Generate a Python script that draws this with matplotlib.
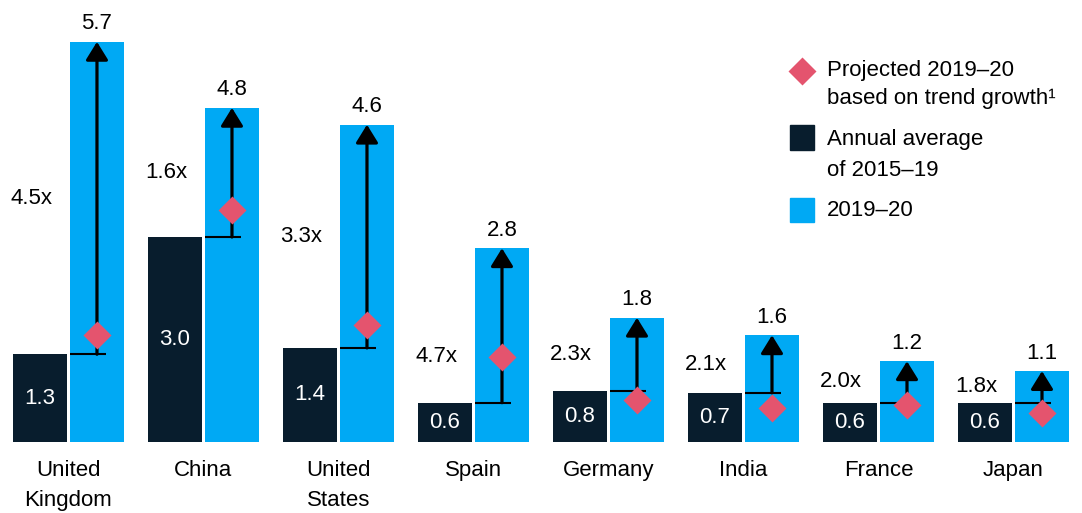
import matplotlib.pyplot as plt
from matplotlib.patches import FancyArrowPatch, Rectangle
from matplotlib.lines import Line2D

plt.rcParams['font.family'] = ['Liberation Sans', 'DejaVu Sans']

countries = ['United\nKingdom', 'China', 'United\nStates', 'Spain', 'Germany', 'India', 'France', 'Japan']
# bar heights as drawn in the picture
avg_2015_19 = [1.25, 2.92, 1.34, 0.56, 0.73, 0.70, 0.56, 0.56]
actual_2019_20 = [5.70, 4.76, 4.52, 2.76, 1.77, 1.52, 1.15, 1.01]
projected = [1.52, 3.30, 1.67, 1.21, 0.60, 0.48, 0.53, 0.41]
# printed labels
avg_labels = ['1.3', '3.0', '1.4', '0.6', '0.8', '0.7', '0.6', '0.6']
actual_labels = ['5.7', '4.8', '4.6', '2.8', '1.8', '1.6', '1.2', '1.1']
multipliers = ['4.5x', '1.6x', '3.3x', '4.7x', '2.3x', '2.1x', '2.0x', '1.8x']

dark = '#081d2d'
blue = '#00a9f4'
pink = '#e4546e'
fs = 16

fig = plt.figure(figsize=(10.82, 5.13), dpi=100)
ax = fig.add_axes([13 / 1082, 71 / 513, 1056 / 1082, 442 / 513])
ax.set_xlim(-0.411, 7.411)
ax.set_ylim(0, 442 / 70.2)
ax.axis('off')

w = 0.4
off = 0.211
for i, c in enumerate(countries):
    d, b, p = avg_2015_19[i], actual_2019_20[i], projected[i]
    ax.bar(i - off, d, width=w, color=dark)
    ax.bar(i + off, b, width=w, color=blue)
    # value labels
    ax.text(i - off, d / 2, avg_labels[i], color='white', ha='center', va='center', fontsize=fs)
    ax.annotate(actual_labels[i], (i + off, b), xytext=(0, 9), textcoords='offset points',
                ha='center', va='baseline', fontsize=fs)
    # tick at the average level and arrow up to the actual value
    ax.plot([i + off - w / 2, i + off + 0.07], [d, d], color='black', lw=1.5, solid_capstyle='butt')
    arr = FancyArrowPatch((i + off, d), (i + off, b), arrowstyle='-|>,head_length=11,head_width=6.8',
                          mutation_scale=1, color='black', lw=2.3, shrinkA=0, shrinkB=0, zorder=3)
    ax.add_patch(arr)
    ax.plot([i + off], [p], marker='D', ms=14.5, color=pink, mec='none', zorder=4)
    # growth multiplier
    ymid = (d + b) / 2
    if c == 'Spain':
        ymid = d + 0.66
    ax.text(i - off - w / 2 - 0.02, ymid, multipliers[i], ha='left', va='center', fontsize=fs)
    ax.annotate(c, (i, 0), xytext=(0, -13), textcoords='offset points', ha='center', va='top',
                fontsize=fs, linespacing=1.55, annotation_clip=False)

# legend
def fx(x):
    return x / 1082

def fy(y):
    return 1 - y / 513

fig.add_artist(Line2D([fx(802)], [fy(71)], marker='D', ms=14.5, color=pink, mec='none',
                      transform=fig.transFigure))
fig.add_artist(Rectangle((fx(790), fy(150)), 24 / 1082, 25 / 513, color=dark, transform=fig.transFigure))
fig.add_artist(Rectangle((fx(790), fy(222)), 24 / 1082, 24 / 513, color=blue, transform=fig.transFigure))
for y, t in [(71, 'Projected 2019\u201320'), (99, 'based on trend growth\u00b9'),
             (140, 'Annual average'), (170, 'of 2015\u201319'), (211, '2019\u201320')]:
    fig.text(fx(827), fy(y), t, ha='left', va='center', fontsize=fs)

fig.savefig('out.png', dpi=100)
